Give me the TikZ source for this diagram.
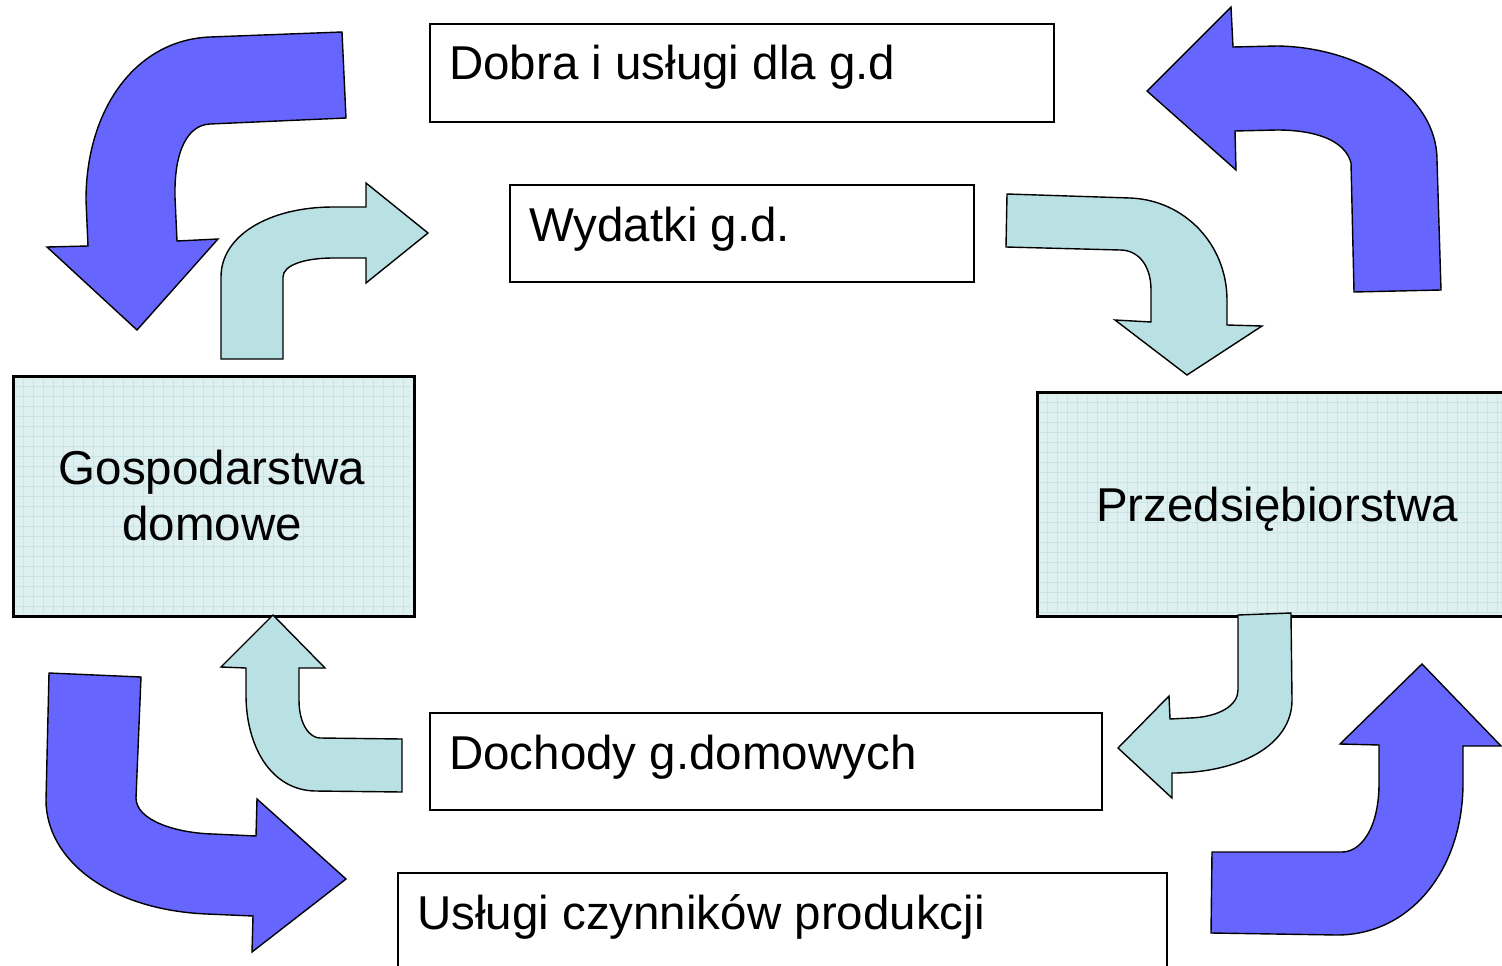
\documentclass[tikz,border=0pt]{standalone}
\usepackage{fontspec}
\setmainfont{Liberation Sans}
\definecolor{bluearrow}{HTML}{6666FF}
\definecolor{cyanarrow}{HTML}{B9E0E3}
\definecolor{boxfill}{HTML}{DFF0F1}
\definecolor{gridline}{HTML}{C8E4E5}
\tikzset{
  plainbox/.style={draw=black, line width=1.8pt, fill=white, inner sep=0pt},
  gridbox/.style={draw=black, line width=1.8pt, fill=boxfill, inner sep=0pt},
  lbl/.style={inner sep=0pt, font=\fontsize{47.5}{56}\selectfont, text=black},
  bluearr/.style={draw=black, line width=1.4pt, fill=bluearrow, line join=miter},
  cyanarr/.style={draw=black, line width=1.4pt, fill=cyanarrow, line join=miter}
}
\begin{document}
\begin{tikzpicture}[x=1pt, y=-1pt]
\clip (0,0) rectangle (1502,966);
\fill[white] (0,0) rectangle (1502,966);

% plain boxes
\node[plainbox, anchor=north west, minimum width=624pt, minimum height=98pt] (dobra) at (429,23) {};
\node[lbl, anchor=base west] (dobraT) at (449,80) {Dobra i usługi dla g.d};

\node[plainbox, anchor=north west, minimum width=464pt, minimum height=97pt] (wyd) at (509,184) {};
\node[lbl, anchor=base west] (wydT) at (529,241) {Wydatki g.d.};

\node[plainbox, anchor=north west, minimum width=672pt, minimum height=97pt] (doch) at (429,712) {};
\node[lbl, anchor=base west] (dochT) at (449,769) {Dochody g.domowych};

\node[plainbox, anchor=north west, minimum width=769pt, minimum height=104pt] (usl) at (397,872) {};
\node[lbl, anchor=base west] (uslT) at (417,929) {Usługi czynników produkcji};

% grid boxes
\node[gridbox, anchor=north west, minimum width=400pt, minimum height=239pt] (gosp) at (13,376) {};
\begin{scope}
  \clip (16,379) rectangle (410,612);
  \foreach \gx in {0,...,40} \draw[gridline, line width=0.5pt] (13+\gx*10,376) -- (13+\gx*10,615);
  \foreach \gy in {0,...,24} \draw[gridline, line width=0.5pt] (13,376+\gy*10) -- (413,376+\gy*10);
\end{scope}
\draw[line width=1.8pt] (gosp.north west) rectangle (gosp.south east);
\node[lbl, anchor=base] (gospT1) at (212,484) {Gospodarstwa};
\node[lbl, anchor=base] (gospT2) at (212,540) {domowe};

\node[gridbox, anchor=north west, minimum width=480pt, minimum height=223pt] (przed) at (1037,392) {};
\begin{scope}
  \clip (1040,395) rectangle (1520,612);
  \foreach \gx in {0,...,48} \draw[gridline, line width=0.5pt] (1037+\gx*10,392) -- (1037+\gx*10,615);
  \foreach \gy in {0,...,22} \draw[gridline, line width=0.5pt] (1037,392+\gy*10) -- (1520,392+\gy*10);
\end{scope}
\draw[line width=1.8pt] (przed.north west) rectangle (przed.south east);
\node[lbl, anchor=base] (przedT) at (1277,521) {Przedsiębiorstwa};

% blue arrows
\draw[bluearr] (342,32) -- (210,37) .. controls (135,40) and (86,110) .. (86,200) -- (88,246) -- (47,247) -- (137,330) -- (218,239) -- (177,241) -- (175,197) .. controls (174,150) and (188,125) .. (210,124) -- (346,118) -- cycle;

\draw[bluearr] (1147,91) -- (1231,7) -- (1233,47) -- (1277,46) .. controls (1360,47) and (1437,95) .. (1437,160) -- (1441,290) -- (1354,292) -- (1351,163) .. controls (1345,140) and (1315,130) .. (1277,130) -- (1235,131) -- (1236,170) -- cycle;

\draw[bluearr] (49,673) -- (141,677) -- (136,798) .. controls (136,820) and (175,833) .. (213,834) -- (256,836) -- (257,799) -- (346,879) -- (252,952) -- (253,916) -- (207,914) .. controls (110,910) and (46,860) .. (46,800) -- cycle;

\draw[bluearr] (1212,852) -- (1211,933) -- (1337,935) .. controls (1410,935) and (1463,870) .. (1463,783) -- (1463,746) -- (1501,746) -- (1422,664) -- (1340,744) -- (1379,745) -- (1379,783) .. controls (1379,830) and (1360,852) .. (1342,852) -- cycle;

% cyan arrows
\draw[cyanarr] (221,359) -- (221,277) .. controls (221,235) and (270,207) .. (333,207) -- (366,207) -- (366,183) -- (428,233) -- (366,283) -- (366,258) -- (333,258) .. controls (305,258) and (283,265) .. (283,277) -- (283,359) -- cycle;

\draw[cyanarr] (1007,194) -- (1130,198) .. controls (1185,200) and (1227,245) .. (1227,300) -- (1227,325) -- (1262,326) -- (1187,375) -- (1115,320) -- (1151,322) -- (1151,290) .. controls (1151,265) and (1138,250) .. (1120,250) -- (1006,247) -- cycle;

\draw[cyanarr] (273,615) -- (325,668) -- (299,668) -- (299,700) .. controls (299,725) and (310,738) .. (320,738) -- (402,739) -- (402,792) -- (315,791) .. controls (270,790) and (246,745) .. (246,695) -- (246,668) -- (221,667) -- cycle;

\draw[cyanarr] (1238,615) -- (1291,613) -- (1292,700) .. controls (1292,745) and (1240,773) .. (1172,773) -- (1172,798) -- (1118,748) -- (1169,696) -- (1170,719) -- (1190,718) .. controls (1220,717) and (1238,705) .. (1238,690) -- cycle;
\end{tikzpicture}
\end{document}
